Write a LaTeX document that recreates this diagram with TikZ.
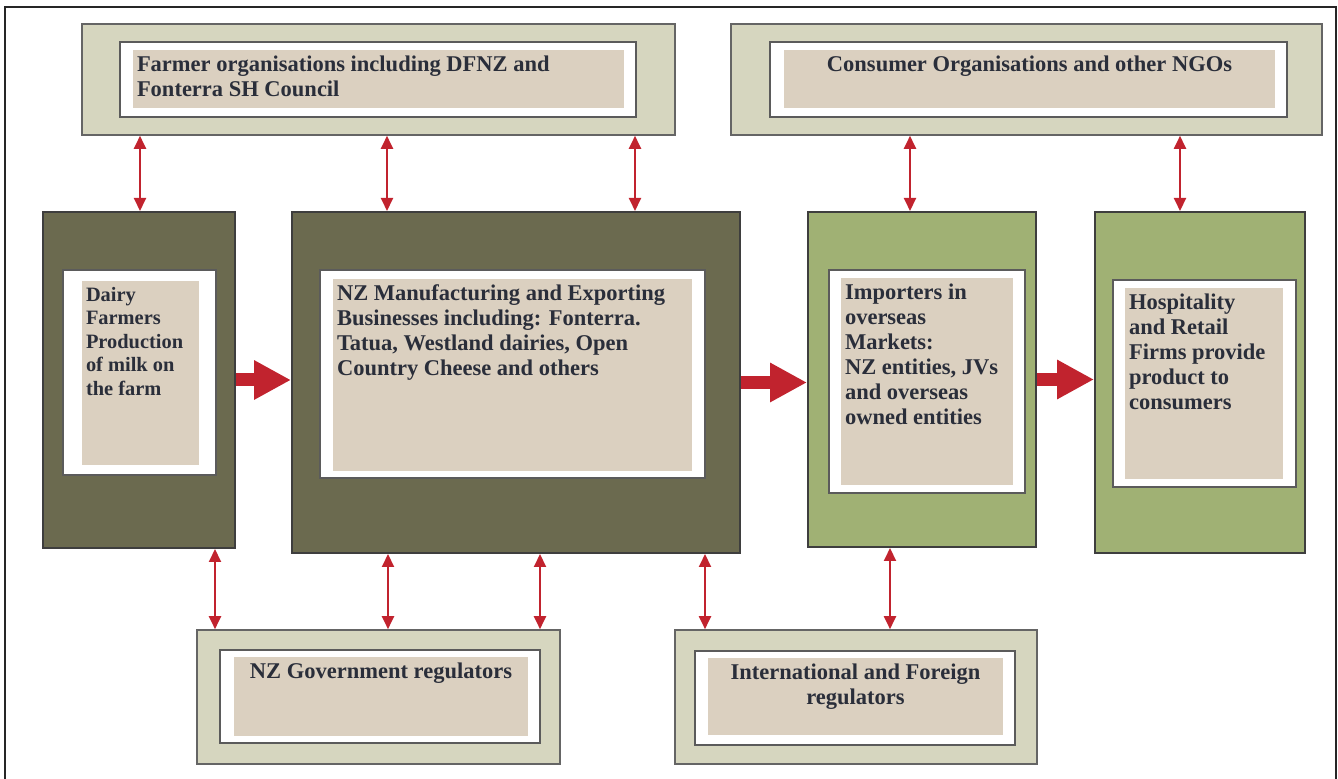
\documentclass[tikz,border=0pt]{standalone}
\usepackage{fontspec}
\setmainfont{Liberation Serif}
\usetikzlibrary{arrows.meta,fit}

\definecolor{farmolive}{HTML}{6B6A4F}
\definecolor{marketgreen}{HTML}{A0B174}
\definecolor{orgpale}{HTML}{D6D6BF}
\definecolor{padsand}{HTML}{DBD0C0}
\definecolor{rimgray}{HTML}{3E3E3E}
\definecolor{flowred}{HTML}{C1232E}
\definecolor{inkblue}{HTML}{2A2E3A}

\tikzset{
  panel/.style={draw=rimgray, line width=1pt, inner sep=0pt},
  farmpanel/.style={panel, fill=farmolive},
  marketpanel/.style={panel, fill=marketgreen},
  orgpanel/.style={panel, draw=rimgray!80, line width=0.8pt, fill=orgpale},
  mat/.style={panel, line width=0.75pt, draw=rimgray!85, fill=white},
  pad/.style={fill=padsand, inner sep=0pt},
  boxtext/.style={inner xsep=2pt, inner ysep=3pt, align=left, text=inkblue,
    font=\bfseries\fontsize{11.25}{12.5}\selectfont},
  link/.style={draw=flowred, line width=1pt,
    {Triangle[length=6.5pt,width=6pt]}-{Triangle[length=6.5pt,width=6pt]}},
  flow/.style={draw=flowred, line width=6.5pt,
    -{Triangle[length=18.5pt,width=18.5pt]}},
}

\begin{document}
\begin{tikzpicture}[x=0.5pt,y=-0.5pt]
  \useasboundingbox (0,0) rectangle (1338,779);
  % page frame
  \draw[line width=1.2pt, black!85] (5,782) |- (1336,7) -- (1336,782);

  % organisations along the top
  \node[orgpanel, fit={(82,24) (675,135)}] (farmorg) {};
  \node[mat, fit={(120,42) (636,117)}] (farmorgmat) {};
  \node[pad, fit={(133,50) (624,108)}] (farmorgpad) {};
  \node[boxtext, anchor=north west] (farmorgtext) at (farmorgpad.north west)
    {Farmer organisations including DFNZ and\\Fonterra SH Council};

  \node[orgpanel, fit={(731,24) (1322,135)}] (consorg) {};
  \node[mat, fit={(770,42) (1287,117)}] (consorgmat) {};
  \node[pad, fit={(784,50) (1275,108)}] (consorgpad) {};
  \node[boxtext, anchor=north, align=center] (consorgtext) at (consorgpad.north)
    {Consumer Organisations and other NGOs};

  % the supply chain
  \node[farmpanel, fit={(43,212) (235,548)}] (dairy) {};
  \node[mat, fit={(63,270) (216,475)}] (dairymat) {};
  \node[pad, fit={(82,281) (199,465)}] (dairypad) {};
  \node[boxtext, anchor=north west, font=\bfseries\fontsize{10.2}{11.75}\selectfont]
    (dairytext) at (dairypad.north west)
    {Dairy\\Farmers\\Production\\of milk on\\the farm};

  \node[farmpanel, fit={(292,212) (740,553)}] (manuf) {};
  \node[mat, fit={(320,270) (705,478)}] (manufmat) {};
  \node[pad, fit={(333,279) (692,471)}] (manufpad) {};
  \node[boxtext, anchor=north west] (manuftext) at (manufpad.north west)
    {NZ Manufacturing and Exporting\\Businesses including: Fonterra.\\Tatua, Westland dairies, Open\\Country Cheese and others};

  \node[marketpanel, fit={(808,212) (1036,547)}] (import) {};
  \node[mat, fit={(829,270) (1025,493)}] (importmat) {};
  \node[pad, fit={(841,278) (1013,485)}] (importpad) {};
  \node[boxtext, anchor=north west] (importtext) at (importpad.north west)
    {Importers in\\overseas\\Markets:\\NZ entities, JVs\\and overseas\\owned entities};

  \node[marketpanel, fit={(1095,212) (1305,553)}] (retail) {};
  \node[mat, fit={(1113,280) (1296,487)}] (retailmat) {};
  \node[pad, fit={(1125,288) (1283,479)}] (retailpad) {};
  \node[boxtext, anchor=north west] (retailtext) at (retailpad.north west)
    {Hospitality\\and Retail\\Firms provide\\product to\\consumers};

  % regulators along the bottom
  \node[orgpanel, fit={(197,630) (560,764)}] (govreg) {};
  \node[mat, fit={(220,650) (540,743)}] (govregmat) {};
  \node[pad, fit={(234,657) (528,736)}] (govregpad) {};
  \node[boxtext, anchor=north, align=center] (govregtext) at (govregpad.north)
    {NZ Government regulators};

  \node[orgpanel, fit={(675,630) (1037,764)}] (intlreg) {};
  \node[mat, fit={(695,651) (1015,745)}] (intlregmat) {};
  \node[pad, fit={(708,658) (1003,735)}] (intlregpad) {};
  \node[boxtext, anchor=north, align=center] (intlregtext) at (intlregpad.north)
    {International and Foreign\\regulators};

  % product flow
  \draw[flow] (dairy.east) -- (dairy.east -| manuf.west);
  \draw[flow] (manuf.east) -- (manuf.east -| import.west);
  \draw[flow] (import.east) -- (import.east -| retail.west);

  % two-way links
  \draw[link] (farmorg.south -| 140,0) -- (dairy.north -| 140,0);
  \draw[link] (farmorg.south -| 387,0) -- (manuf.north -| 387,0);
  \draw[link] (farmorg.south -| 635,0) -- (manuf.north -| 635,0);
  \draw[link] (consorg.south -| 910,0) -- (import.north -| 910,0);
  \draw[link] (consorg.south -| 1180,0) -- (retail.north -| 1180,0);
  \draw[link] (dairy.south -| 215,0) -- (govreg.north -| 215,0);
  \draw[link] (manuf.south -| 388,0) -- (govreg.north -| 388,0);
  \draw[link] (manuf.south -| 540,0) -- (govreg.north -| 540,0);
  \draw[link] (manuf.south -| 705,0) -- (intlreg.north -| 705,0);
  \draw[link] (import.south -| 890,0) -- (intlreg.north -| 890,0);
\end{tikzpicture}
\end{document}
